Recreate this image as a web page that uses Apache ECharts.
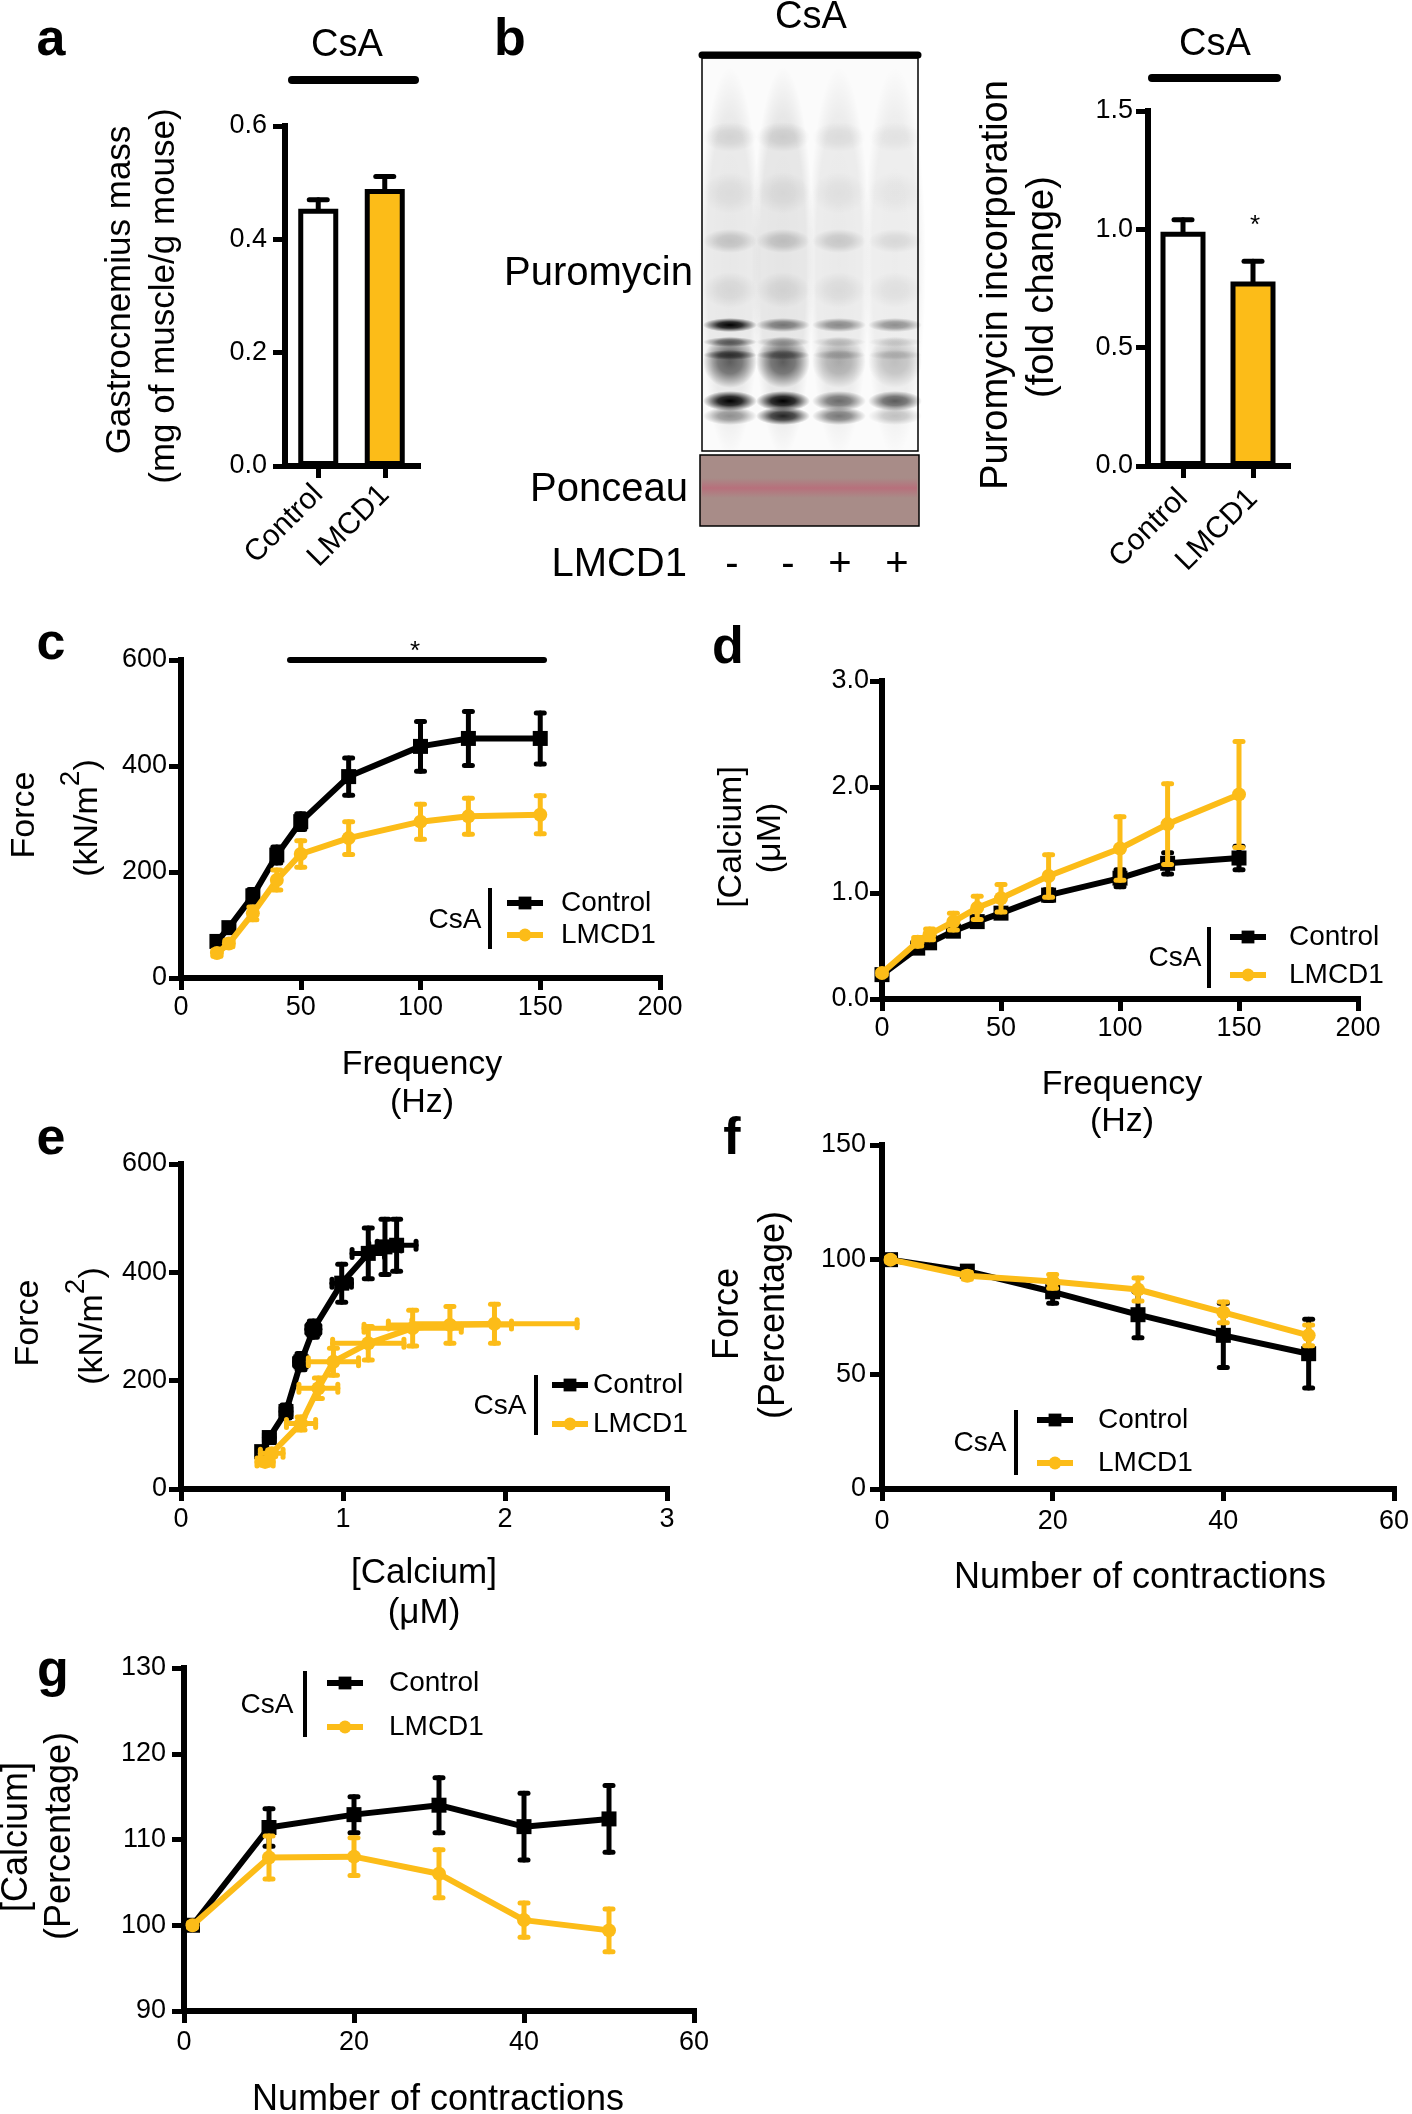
<!DOCTYPE html>
<html><head><meta charset="utf-8">
<script src="https://cdn.jsdelivr.net/npm/echarts@6/dist/echarts.min.js"></script>
<style>html,body{margin:0;padding:0;background:#fff}#chart{width:1412px;height:2114px}</style>
</head><body><div id="chart"></div>
<script>
// ---------------- DATA ----------------
// a: gastrocnemius mass
const massCats = ['Control', 'LMCD1'];
const massMean = [0.454, 0.489];
const massSem = [0.016, 0.022];
// b: puromycin incorporation
const puroCats = ['Control', 'LMCD1'];
const puroMean = [0.99, 0.78];
const puroSem = [0.05, 0.085];
const blotLaneSigns = ['-', '-', '+', '+'];
// c: force vs frequency
const freqC = [15, 20, 30, 40, 50, 70, 100, 120, 150];
const forceCtrl = [69, 95, 155, 232, 295, 380, 437, 452, 452];
const forceCtrlSem = [5, 8, 12, 15, 15, 35, 47, 51, 48];
const forceLmcd = [47, 65, 122, 185, 234, 264, 295, 305, 308];
const forceLmcdSem = [6, 6, 12, 19, 25, 31, 33, 34, 36];
// d: calcium vs frequency
const freqD = [0, 15, 20, 30, 40, 50, 70, 100, 120, 150];
const caCtrl = [0.23, 0.48, 0.53, 0.64, 0.73, 0.81, 0.98, 1.14, 1.28, 1.33];
const caCtrlSem = [0.02, 0.03, 0.03, 0.04, 0.04, 0.04, 0.05, 0.08, 0.1, 0.11];
const caLmcd = [0.245, 0.54, 0.61, 0.73, 0.86, 0.95, 1.16, 1.42, 1.65, 1.93];
const caLmcdSem = [0.02, 0.04, 0.05, 0.08, 0.11, 0.13, 0.2, 0.3, 0.38, 0.5];
// e: force vs calcium
const eCaCtrl = [0.498, 0.545, 0.648, 0.741, 0.817, 0.992, 1.156, 1.259, 1.331];
const eCaCtrlSem = [0.02, 0.03, 0.03, 0.04, 0.04, 0.06, 0.1, 0.1, 0.12];
const eForceCtrl = [69, 95, 143, 235, 295, 380, 435, 447, 450];
const eForceCtrlSem = [5, 8, 12, 15, 15, 35, 47, 51, 48];
const eCaLmcd = [0.519, 0.56, 0.741, 0.848, 0.941, 1.156, 1.43, 1.66, 1.935];
const eCaLmcdSem = [0.05, 0.07, 0.09, 0.12, 0.155, 0.22, 0.3, 0.38, 0.51];
const eForceLmcd = [50, 66, 121, 186, 235, 269, 297, 303, 305];
const eForceLmcdSem = [6, 6, 12, 19, 25, 31, 33, 34, 36];
// f: force (%) vs contractions
const contractions = [1, 10, 20, 30, 40, 50];
const fCtrl = [100, 95, 86, 76, 67, 59];
const fCtrlSem = [1, 2, 5, 10, 14, 15];
const fLmcd = [100, 93, 90.5, 87, 77, 67];
const fLmcdSem = [1, 1.5, 3, 5, 4.5, 4.5];
// g: calcium (%) vs contractions
const gCtrl = [100, 111.4, 112.9, 114, 111.5, 112.4];
const gCtrlSem = [0.3, 2.2, 2.1, 3.2, 3.9, 3.9];
const gLmcd = [100, 107.9, 108, 106, 100.6, 99.4];
const gLmcdSem = [0.3, 2.5, 2.2, 2.8, 2, 2.5];

// blot appearance (decorative picture of the western blot)
const blotLaneX = [730, 783, 839, 895];
const blotLaneSmear = [0.08, 0.09, 0.07, 0.06];
const blotBandY = [137, 193, 241, 290, 325, 362, 342, 355, 401, 416];
const blotBandH = [30, 42, 24, 36, 14, 52, 10, 10, 20, 18];
const blotBandAlpha = [
  [0.10, 0.12, 0.07, 0.05],
  [0.06, 0.07, 0.05, 0.04],
  [0.17, 0.18, 0.15, 0.09],
  [0.08, 0.09, 0.07, 0.06],
  [1.00, 0.50, 0.42, 0.40],
  [0.60, 0.60, 0.28, 0.20],
  [0.55, 0.25, 0.15, 0.12],
  [0.60, 0.40, 0.18, 0.14],
  [1.00, 1.00, 0.55, 0.62],
  [0.40, 0.85, 0.50, 0.20]
];

// ---------------- STYLE ----------------
const FONT = '"Liberation Sans", Arial, Helvetica, sans-serif';
const BLACK = '#000000';
const YELLOW = '#FCBC18';

function valAxis(gi, min, max, interval, margin, fmt, tickLen, fs) {
  return {
    type: 'value', gridIndex: gi, min, max, interval,
    axisLine: { show: true, onZero: false, lineStyle: { color: BLACK, width: 6, cap: 'square' } },
    axisTick: { show: true, length: tickLen || 12, lineStyle: { color: BLACK, width: 5 } },
    axisLabel: { color: BLACK, fontFamily: FONT, fontSize: fs || 27, margin, formatter: fmt },
    splitLine: { show: false }
  };
}
function catAxis(gi, cats, margin) {
  return {
    type: 'category', gridIndex: gi, data: cats,
    axisLine: { show: true, onZero: false, lineStyle: { color: BLACK, width: 6, cap: 'square' } },
    axisTick: { show: true, alignWithLabel: true, length: 12, lineStyle: { color: BLACK, width: 5 } },
    axisLabel: { color: BLACK, fontFamily: FONT, fontSize: 30, rotate: 45, margin, interval: 0 },
    splitLine: { show: false }
  };
}
const f1 = v => v.toFixed(1);
const f0 = v => String(Math.round(v));

function makeErr(color, lw, capHalf, upOnly) {
  return function (params, api) {
    const x = api.value(0), y = api.value(1), ey = api.value(2), ex = api.value(3);
    const c = api.coord([x, y]);
    const st = { stroke: color, lineWidth: lw, lineCap: 'round', fill: null };
    const ch = [];
    if (ey > 0) {
      const t = api.coord([x, y + ey]);
      const b = upOnly ? c : api.coord([x, y - ey]);
      ch.push({ type: 'line', shape: { x1: c[0], y1: b[1], x2: c[0], y2: t[1] }, style: st });
      ch.push({ type: 'line', shape: { x1: c[0] - capHalf, y1: t[1], x2: c[0] + capHalf, y2: t[1] }, style: st });
      if (!upOnly) ch.push({ type: 'line', shape: { x1: c[0] - capHalf, y1: b[1], x2: c[0] + capHalf, y2: b[1] }, style: st });
    }
    if (ex > 0) {
      const l = api.coord([x - ex, y]), r = api.coord([x + ex, y]);
      ch.push({ type: 'line', shape: { x1: l[0], y1: c[1], x2: r[0], y2: c[1] }, style: st });
      ch.push({ type: 'line', shape: { x1: l[0], y1: c[1] - capHalf, x2: l[0], y2: c[1] + capHalf }, style: st });
      ch.push({ type: 'line', shape: { x1: r[0], y1: c[1] - capHalf, x2: r[0], y2: c[1] + capHalf }, style: st });
    }
    return { type: 'group', children: ch };
  };
}
function lineS(name, gi, xs, ys, color, symbol, size, z) {
  return {
    type: 'line', name, xAxisIndex: gi, yAxisIndex: gi, z,
    data: xs.map((x, i) => [x, ys[i]]), symbol, symbolSize: size, showSymbol: true,
    itemStyle: { color, borderWidth: 0 }, lineStyle: { color, width: 6 }
  };
}
function errS(name, gi, xs, ys, eys, exs, color, z) {
  return {
    type: 'custom', name, xAxisIndex: gi, yAxisIndex: gi, z,
    renderItem: makeErr(color, 5, 4, false),
    encode: { x: 0, y: 1 },
    data: xs.map((x, i) => [x, ys[i], eys[i], exs ? exs[i] : 0])
  };
}
function barS(gi, means, width) {
  return {
    type: 'bar', name: 'bar' + gi, xAxisIndex: gi, yAxisIndex: gi, barWidth: width,
    data: means.map((v, i) => ({ value: v, itemStyle: { color: i === 0 ? '#ffffff' : YELLOW } })),
    itemStyle: { borderColor: BLACK, borderWidth: 5 }
  };
}
function barErrS(gi, means, sems) {
  return {
    type: 'custom', name: 'barerr' + gi, xAxisIndex: gi, yAxisIndex: gi, z: 5,
    renderItem: makeErr(BLACK, 5, 9, true), encode: { x: 0, y: 1 },
    data: means.map((v, i) => [i, v, sems[i], 0])
  };
}
function legendAt(left, top, gap, pad) {
  return {
    data: ['Control', 'LMCD1'], orient: 'vertical', left, top, padding: 0,
    itemWidth: 36, itemHeight: 16, itemGap: gap, selectedMode: false,
    lineStyle: { width: 6 },
    textStyle: { fontFamily: FONT, fontSize: 28, lineHeight: 30, color: BLACK, padding: [0, 0, 0, pad] }
  };
}

// graphic helpers
function T(x, y, text, size, opt) {
  opt = opt || {};
  const al = opt.align || 'center';
  return {
    type: 'text', x, y, rotation: opt.rot ? Math.PI / 2 : 0, z: 100,
    style: {
      text, fill: BLACK, font: (opt.bold ? 'bold ' : '') + size + 'px ' + FONT,
      align: al, verticalAlign: 'middle', textAlign: al, textVerticalAlign: 'middle'
    }
  };
}
function supText(x, y, size) {
  return {
    type: 'text', x, y, rotation: Math.PI / 2, z: 100,
    style: {
      text: '{a|(kN/m}{s|2}{a|)}', fill: BLACK,
      align: 'center', verticalAlign: 'middle', textAlign: 'center', textVerticalAlign: 'middle',
      rich: {
        a: { fontSize: size, fontFamily: FONT, lineHeight: size + 14, verticalAlign: 'bottom', fill: BLACK },
        s: { fontSize: size - 6, fontFamily: FONT, lineHeight: size - 6, verticalAlign: 'top', fill: BLACK }
      }
    }
  };
}
function L(x1, y1, x2, y2, w, cap) {
  return { type: 'line', z: 100, shape: { x1, y1, x2, y2 }, style: { stroke: BLACK, lineWidth: w, lineCap: cap || 'butt' } };
}
function softEllipse(cx, cy, w, h, alpha, mid, z) {
  return {
    type: 'circle', z: z, shape: { cx, cy, r: w / 2 }, scaleY: h / w, originX: cx, originY: cy,
    style: {
      fill: {
        type: 'radial', x: 0.5, y: 0.5, r: 0.5, colorStops: [
          { offset: 0, color: 'rgba(0,0,0,' + alpha + ')' }, { offset: mid, color: 'rgba(0,0,0,' + (alpha * 0.85) + ')' },
          { offset: 1, color: 'rgba(0,0,0,0)' }]
      }
    }
  };
}

// ---------------- GRAPHICS ----------------
const graphics = [];
[['a', 51, 41], ['b', 510, 41], ['c', 51, 645], ['d', 728, 649], ['e', 51, 1140], ['f', 732, 1140], ['g', 53, 1672]]
  .forEach(p => graphics.push(T(p[1], p[2], p[0], 52, { bold: true })));

// panel a
graphics.push(T(347, 46, 'CsA', 38));
graphics.push(L(292, 80, 415, 80, 8, 'round'));
graphics.push(T(120, 290, 'Gastrocnemius mass', 35, { rot: true }));
graphics.push(T(164, 296, '(mg of muscle/g mouse)', 35, { rot: true }));

// panel b blot
graphics.push(T(811, 18, 'CsA', 38));
graphics.push(L(702, 55, 918, 55, 7, 'round'));
graphics.push({ type: 'rect', z: 1, shape: { x: 702, y: 58, width: 216, height: 393 }, style: { fill: '#fbfbfb', stroke: BLACK, lineWidth: 1.5 } });
blotLaneX.forEach((lx, li) => {
  // tall soft lane haze
  graphics.push(softEllipse(lx, 262, 62, 390, blotLaneSmear[li], 0.75, 2));
  blotBandY.forEach((by, bi) => {
    const h = blotBandH[bi], al = blotBandAlpha[bi][li], w = 54;
    graphics.push({
      type: 'circle', z: 3, shape: { cx: lx, cy: by, r: h / 2 }, scaleX: w / h, originX: lx, originY: by,
      style: {
        fill: {
          type: 'radial', x: 0.5, y: 0.5, r: 0.5, colorStops: [
            { offset: 0, color: 'rgba(0,0,0,' + al + ')' }, { offset: 0.45, color: 'rgba(0,0,0,' + (al * 0.8) + ')' },
            { offset: 1, color: 'rgba(0,0,0,0)' }]
        }
      }
    });
  });
});
graphics.push({ type: 'rect', z: 1, shape: { x: 700, y: 455, width: 219, height: 71 }, style: { fill: '#a88c88', stroke: BLACK, lineWidth: 1.5 } });
graphics.push({
  type: 'rect', z: 2, shape: { x: 702, y: 478, width: 215, height: 20 },
  style: {
    fill: {
      type: 'linear', x: 0, y: 0, x2: 0, y2: 1, colorStops: [
        { offset: 0, color: 'rgba(205,70,105,0)' }, { offset: 0.5, color: 'rgba(205,70,105,0.4)' },
        { offset: 1, color: 'rgba(205,70,105,0)' }]
    }
  }
});
graphics.push(T(693, 274, 'Puromycin', 40, { align: 'right' }));
graphics.push(T(688, 490, 'Ponceau', 40, { align: 'right' }));
graphics.push(T(687, 565, 'LMCD1', 40, { align: 'right' }));
blotLaneSigns.forEach((s, i) => graphics.push(T([732, 788, 840, 897][i], 565, s, 40)));

// panel b bar
graphics.push(T(1215, 45, 'CsA', 38));
graphics.push(L(1152, 78, 1277, 78, 8, 'round'));
graphics.push(T(997, 285, 'Puromycin incorporation', 38, { rot: true }));
graphics.push(T(1043, 287, '(fold change)', 38, { rot: true }));
graphics.push(T(1255, 226, '*', 26));

// panel c
graphics.push(T(415, 652, '*', 26));
graphics.push(L(290, 660, 544, 660, 6, 'round'));
graphics.push(T(25, 815, 'Force', 34, { rot: true }));
graphics.push(supText(81, 818, 34));
graphics.push(T(422, 1065, 'Frequency', 34));
graphics.push(T(422, 1103, '(Hz)', 34));
graphics.push(T(455, 920, 'CsA', 28));
graphics.push(L(490, 888, 490, 949, 4));

// panel d
graphics.push(T(732, 837, '[Calcium]', 34, { rot: true }));
graphics.push(T(771, 838, '(μM)', 34, { rot: true }));
graphics.push(T(1122, 1085, 'Frequency', 34));
graphics.push(T(1122, 1122, '(Hz)', 34));
graphics.push(T(1175, 958, 'CsA', 28));
graphics.push(L(1209, 927, 1209, 988, 4));

// panel e
graphics.push(T(29, 1323, 'Force', 34, { rot: true }));
graphics.push(supText(86, 1326, 34));
graphics.push(T(424, 1573, '[Calcium]', 35));
graphics.push(T(424, 1613, '(μM)', 35));
graphics.push(T(500, 1406, 'CsA', 28));
graphics.push(L(536, 1375, 536, 1435, 4));

// panel f
graphics.push(T(728, 1314, 'Force', 36, { rot: true }));
graphics.push(T(774, 1315, '(Percentage)', 36, { rot: true }));
graphics.push(T(1140, 1578, 'Number of contractions', 36));
graphics.push(T(980, 1443, 'CsA', 28));
graphics.push(L(1016, 1410, 1016, 1475, 4));

// panel g
graphics.push(T(17, 1837, '[Calcium]', 36, { rot: true }));
graphics.push(T(60, 1836, '(Percentage)', 36, { rot: true }));
graphics.push(T(438, 2100, 'Number of contractions', 36));
graphics.push(T(267, 1705, 'CsA', 28));
graphics.push(L(305, 1671, 305, 1737, 4));

// ---------------- OPTION ----------------
const option = {
  animation: false,
  backgroundColor: '#ffffff',
  grid: [
    { left: 285, top: 126, width: 133, height: 340 },
    { left: 1148, top: 111, width: 140, height: 355 },
    { left: 181, top: 660, width: 479, height: 318 },
    { left: 882, top: 681, width: 476, height: 318 },
    { left: 181, top: 1164, width: 486, height: 325 },
    { left: 882, top: 1145, width: 513, height: 344 },
    { left: 184, top: 1668, width: 510, height: 343 }
  ],
  xAxis: [
    catAxis(0, massCats, 24),
    catAxis(1, puroCats, 28),
    valAxis(2, 0, 200, 50, 16, f0),
    valAxis(3, 0, 200, 50, 16, f0),
    valAxis(4, 0, 3, 1, 17, f0),
    valAxis(5, 0, 60, 20, 19, f0),
    valAxis(6, 0, 60, 20, 18, f0)
  ],
  yAxis: [
    valAxis(0, 0, 0.6, 0.2, 18, f1),
    valAxis(1, 0, 1.5, 0.5, 15, f1),
    valAxis(2, 0, 600, 200, 14, f0),
    valAxis(3, 0, 3, 1, 13, f1),
    valAxis(4, 0, 600, 200, 14, f0),
    valAxis(5, 0, 150, 50, 16, f0),
    valAxis(6, 90, 130, 10, 18, f0)
  ],
  legend: [
    legendAt(504, 888, 2, 13),
    legendAt(1227, 922, 8, 18),
    legendAt(549, 1370, 9, 0),
    legendAt(1034, 1405, 13, 20),
    legendAt(324, 1668, 14, 21)
  ],
  series: [
    barS(0, massMean, 40), barErrS(0, massMean, massSem),
    barS(1, puroMean, 45), barErrS(1, puroMean, puroSem),
    // c
    lineS('Control', 2, freqC, forceCtrl, BLACK, 'rect', 15, 2),
    errS('Control SEM c', 2, freqC, forceCtrl, forceCtrlSem, null, BLACK, 2),
    lineS('LMCD1', 2, freqC, forceLmcd, YELLOW, 'circle', 14, 3),
    errS('LMCD1 SEM c', 2, freqC, forceLmcd, forceLmcdSem, null, YELLOW, 3),
    // d
    lineS('Control', 3, freqD, caCtrl, BLACK, 'rect', 15, 2),
    errS('Control SEM d', 3, freqD, caCtrl, caCtrlSem, null, BLACK, 2),
    lineS('LMCD1', 3, freqD, caLmcd, YELLOW, 'circle', 14, 3),
    errS('LMCD1 SEM d', 3, freqD, caLmcd, caLmcdSem, null, YELLOW, 3),
    // e
    lineS('Control', 4, eCaCtrl, eForceCtrl, BLACK, 'rect', 15, 2),
    errS('Control SEM e', 4, eCaCtrl, eForceCtrl, eForceCtrlSem, eCaCtrlSem, BLACK, 2),
    lineS('LMCD1', 4, eCaLmcd, eForceLmcd, YELLOW, 'circle', 14, 3),
    errS('LMCD1 SEM e', 4, eCaLmcd, eForceLmcd, eForceLmcdSem, eCaLmcdSem, YELLOW, 3),
    // f
    lineS('Control', 5, contractions, fCtrl, BLACK, 'rect', 15, 2),
    errS('Control SEM f', 5, contractions, fCtrl, fCtrlSem, null, BLACK, 2),
    lineS('LMCD1', 5, contractions, fLmcd, YELLOW, 'circle', 14, 3),
    errS('LMCD1 SEM f', 5, contractions, fLmcd, fLmcdSem, null, YELLOW, 3),
    // g
    lineS('Control', 6, contractions, gCtrl, BLACK, 'rect', 15, 2),
    errS('Control SEM g', 6, contractions, gCtrl, gCtrlSem, null, BLACK, 2),
    lineS('LMCD1', 6, contractions, gLmcd, YELLOW, 'circle', 14, 3),
    errS('LMCD1 SEM g', 6, contractions, gLmcd, gLmcdSem, null, YELLOW, 3)
  ],
  graphic: { elements: graphics }
};

const chart = echarts.init(document.getElementById('chart'), null, { renderer: 'canvas', width: 1412, height: 2114 });
chart.setOption(option);
</script></body></html>
